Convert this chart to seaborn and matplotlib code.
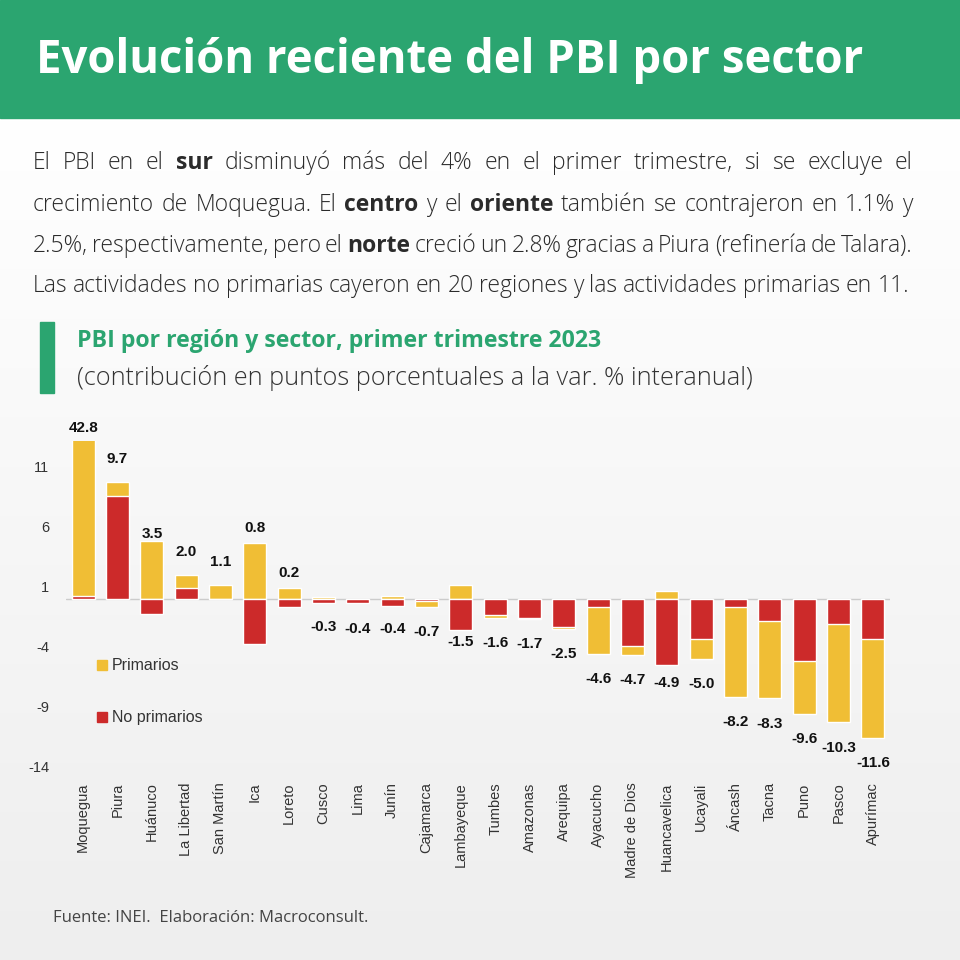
import numpy as np
import seaborn as sns
import matplotlib.pyplot as plt
from matplotlib.colors import LinearSegmentedColormap
from matplotlib.patches import Rectangle
from matplotlib.lines import Line2D

regions = ['Moquegua', 'Piura', 'Huánuco', 'La Libertad', 'San Martín', 'Ica', 'Loreto',
           'Cusco', 'Lima', 'Junín', 'Cajamarca', 'Lambayeque', 'Tumbes', 'Amazonas',
           'Arequipa', 'Ayacucho', 'Madre de Dios', 'Huancavelica', 'Ucayali', 'Áncash',
           'Tacna', 'Puno', 'Pasco', 'Apurímac']
no_primarios = [0.2, 8.5, -1.3, 0.9, 0.0, -3.8, -0.7, -0.4, -0.4, -0.6, -0.2, -2.6,
                -1.4, -1.6, -2.4, -0.7, -3.9, -5.5, -3.4, -0.7, -1.9, -5.2, -2.1, -3.4]
primarios = [42.6, 1.2, 4.8, 1.1, 1.1, 4.6, 0.9, 0.1, 0.0, 0.2, -0.5, 1.1,
             -0.2, -0.1, -0.1, -3.9, -0.8, 0.6, -1.6, -7.5, -6.4, -4.4, -8.2, -8.2]
totals = [42.8, 9.7, 3.5, 2.0, 1.1, 0.8, 0.2, -0.3, -0.4, -0.4, -0.7, -1.5,
          -1.6, -1.7, -2.5, -4.6, -4.7, -4.9, -5.0, -8.2, -8.3, -9.6, -10.3, -11.6]
yticks = [11, 6, 1, -4, -9, -14]

GREEN = '#2ba570'
YELLOW = '#f0be35'
RED = '#cc2a2a'
DARK = '#333333'

sns.set_theme(style='white')
plt.rcParams['font.family'] = ['Open Sans', 'DejaVu Sans']

W = H = 960
fig = plt.figure(figsize=(9.6, 9.6), dpi=100)

# fondo: cabecera verde + degradado
bg = fig.add_axes([0, 0, 1, 1], zorder=-10)
grad = np.linspace(0, 1, 256).reshape(-1, 1)
cmap = LinearSegmentedColormap.from_list('bg', ['#ffffff', '#eeeeee'])
bg.imshow(grad, cmap=cmap, extent=[0, W, H, 118], aspect='auto', origin='upper')
bg.add_patch(Rectangle((0, 0), W, 118, color=GREEN))
bg.add_patch(Rectangle((40, 322), 14, 71, color=GREEN))
bg.set_xlim(0, W)
bg.set_ylim(H, 0)
bg.axis('off')

bg.text(36, 60, 'Evolución reciente del PBI por sector', color='white', fontsize=32.8,
        fontweight='bold', va='center', ha='left')

# párrafo justificado
lines = [
    [('El PBI en el', 0), ('sur', 1), ('disminuyó más del 4% en el primer trimestre, si se excluye el', 0)],
    [('crecimiento de Moquegua. El', 0), ('centro', 1), ('y el', 0), ('oriente', 1),
     ('también se contrajeron en 1.1% y', 0)],
    [('2.5%, respectivamente, pero el', 0), ('norte', 1),
     ('creció un 2.8% gracias a Piura (refinería de Talara).', 0)],
    [('Las actividades no primarias cayeron en 20 regiones y las actividades primarias en 11.', 0)],
]
line_y = [163, 205, 246, 286]
line_end = [913, 913, 913, 909]
renderer = fig.canvas.get_renderer()
for parts, y, x1 in zip(lines, line_y, line_end):
    words = []
    for chunk, b in parts:
        for w in chunk.split():
            words.append((w, b))
    arts, widths = [], []
    for w, b in words:
        t = bg.text(0, y, w, fontsize=16.5, color='#2b2b2b', va='center', ha='left',
                    fontweight='bold' if b else 'light')
        widths.append(t.get_window_extent(renderer).width)
        arts.append(t)
    gap = (x1 - 33 - sum(widths)) / (len(words) - 1)
    x = 33
    for t, wd in zip(arts, widths):
        t.set_x(x)
        x += wd + gap

bg.text(77, 341, 'PBI por región y sector, primer trimestre 2023', color=GREEN,
        fontsize=16.7, fontweight='bold', va='center', ha='left')
bg.text(77, 378, '(contribución en puntos porcentuales a la var. % interanual)', color=DARK,
        fontsize=18.2, fontweight='light', va='center', ha='left')
bg.text(53, 918, 'Fuente: INEI.  Elaboración: Macroconsult.', color='#444444',
        fontsize=12, va='center', ha='left')

# gráfico de barras apiladas
ax = fig.add_axes([66 / W, 1 - 767 / H, 824 / W, 326 / H], zorder=1)
ax.patch.set_alpha(0)
outer = [p + n if p * n > 0 else p for p, n in zip(primarios, no_primarios)]
sns.barplot(x=regions, y=outer, color=YELLOW, saturation=1, width=0.67,
            errorbar=None, ax=ax, zorder=2)
sns.barplot(x=regions, y=no_primarios, color=RED, saturation=1, width=0.67,
            errorbar=None, ax=ax, zorder=3)
ymax = 13.1
ax.set_ylim(-14, ymax)
ax.set_xlim(-0.5, len(regions) - 0.5)
ax.axhline(0, color='#cccccc', lw=1, zorder=1)
ax.set_yticks(yticks)
ax.set_yticklabels([str(v) for v in yticks], fontfamily='Liberation Sans', fontsize=10.5,
                   color=DARK)
ax.set_xticks(range(len(regions)))
ax.set_xticklabels(regions, rotation=90, fontfamily='Liberation Sans', fontsize=10.5,
                   color=DARK, va='top', ha='center')
ax.tick_params(axis='x', length=0, pad=11)
ax.tick_params(axis='y', length=0, pad=12)
sns.despine(ax=ax, left=True, bottom=True)
ax.set_xlabel('')
ax.set_ylabel('')

for i, (t, p, n) in enumerate(zip(totals, primarios, no_primarios)):
    if t > 0:
        top = max(p, 0) + max(n, 0)
        y = t + 1.9
        if top + 0.5 > y:
            y = top + 1.3
        y = min(y, ymax + 1.1)
    else:
        y = t - 2.1
    ax.text(i, y, f'{t:.1f}', ha='center', va='center', fontsize=11,
            fontweight='bold', fontfamily='Liberation Sans', color='#111111')

handles = [Line2D([], [], marker='s', ls='', color=YELLOW, markersize=7),
           Line2D([], [], marker='s', ls='', color=RED, markersize=7)]
ax.legend(handles, ['Primarios', 'No primarios'], loc='upper left',
          bbox_to_anchor=(80 / W, 1 - 644 / H), bbox_transform=fig.transFigure,
          frameon=False, labelspacing=2.3, handletextpad=0.1, handlelength=1.0,
          prop={'family': 'Liberation Sans', 'size': 11.5}, labelcolor=DARK)

fig.savefig('out.png', dpi=100)
